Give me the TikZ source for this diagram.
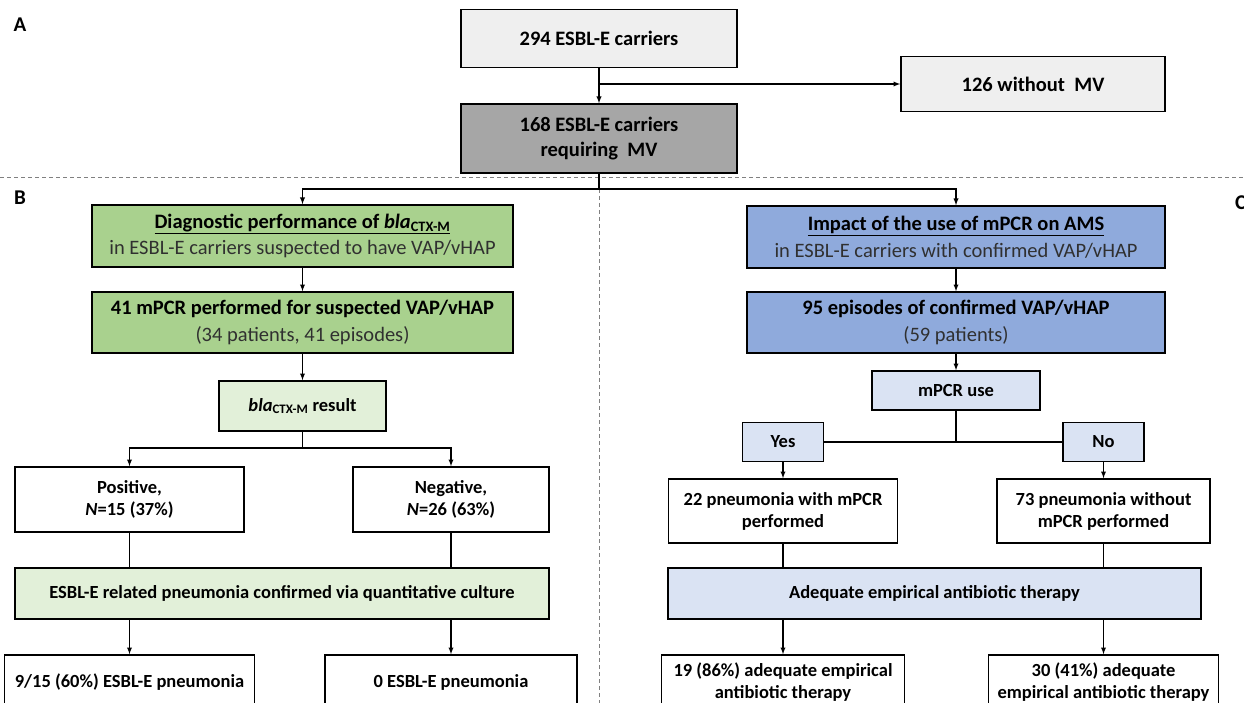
\documentclass[tikz,border=0pt]{standalone}
\usepackage{fontspec}
\setmainfont{Carlito}
\usepackage{tikz}
\definecolor{boxgray}{HTML}{EFEFEF}
\definecolor{boxdark}{HTML}{A6A6A6}
\definecolor{boxgreen}{HTML}{A9D18E}
\definecolor{boxpalegreen}{HTML}{E2F0D9}
\definecolor{boxblue}{HTML}{8FAADC}
\definecolor{boxpaleblue}{HTML}{DAE3F3}
\definecolor{subtext}{HTML}{303030}
\tikzset{arrow/.style={->, >=latex, line width=1.3pt}}
\tikzset{plain-line/.style={line width=1.3pt}}
\tikzset{split-line/.style={draw=gray, line width=1pt, dash pattern=on 4pt off 3pt}}
\tikzset{box/.style={draw, line width=1.6pt, align=center, inner sep=0pt, font=\fontsize{18.5}{22}\selectfont\bfseries}}
\tikzset{big-text/.style={font=\fontsize{20.5}{25}\selectfont\bfseries}}
\tikzset{gray-box/.style={box, big-text, fill=boxgray}}
\tikzset{dark-box/.style={box, big-text, fill=boxdark}}
\tikzset{green-box/.style={box, fill=boxgreen, font=\fontsize{20.5}{26.5}\selectfont\bfseries}}
\tikzset{palegreen-box/.style={box, fill=boxpalegreen}}
\tikzset{blue-box/.style={box, fill=boxblue, font=\fontsize{20.5}{26.5}\selectfont\bfseries}}
\tikzset{paleblue-box/.style={box, fill=boxpaleblue}}
\tikzset{white-box/.style={box, fill=white}}
\tikzset{panel/.style={font=\fontsize{21}{24}\selectfont\bfseries, inner sep=0pt}}
\newcommand{\blaCTX}{\textit{bla}\textsubscript{CTX-M}}
\newcommand{\subline}[1]{{\mdseries\color{subtext}#1}}

\begin{document}
\begin{tikzpicture}[x=1pt, y=-1pt]
      \useasboundingbox (0, 0) rectangle (1244, 703);
      \clip (0, 0) rectangle (1244, 703);

      \node[panel] (labA) at (20, 25) {A};
      \node[panel] (labB) at (20, 198) {B};
      \node[panel, anchor=west] (labC) at (1235, 203) {C};

      \draw[split-line] (0, 178) -- (1244, 178);
      \coordinate (s1) at (599, 189);
      \draw[split-line] (s1) -- (599, 703);

      \node[gray-box, minimum width=276pt, minimum height=58pt] (A1) at (599, 38.5) {294 ESBL-E carriers};
      \node[gray-box, minimum width=264pt, minimum height=55pt] (A2) at (1033, 84) {126 without\ \ MV};
      \node[dark-box, minimum width=276pt, minimum height=69pt] (A3) at (599, 138.5) {168 ESBL-E carriers\\requiring\ \ MV};

      \node[green-box, minimum width=421pt, minimum height=62pt] (B1) at (302.5, 236) {\underline{Diagnostic performance of \blaCTX}\\\subline{in ESBL-E carriers suspected to have VAP/vHAP}};
      \node[green-box, minimum width=421pt, minimum height=61pt] (B2) at (302.5, 322.5) {41 mPCR performed for suspected VAP/vHAP\\\subline{(34 patients, 41 episodes)}};
      \node[palegreen-box, minimum width=167pt, minimum height=50pt] (B3) at (302.5, 406) {\blaCTX{} result};
      \node[white-box, minimum width=229pt, minimum height=65pt] (Bpos) at (129.5, 499.5) {Positive,\\\textit{N}=15 (37\%)};
      \node[white-box, minimum width=196pt, minimum height=65pt] (Bneg) at (451, 499.5) {Negative,\\\textit{N}=26 (63\%)};
      \node[palegreen-box, minimum width=534pt, minimum height=51pt] (Bcult) at (282, 593.5) {ESBL-E related pneumonia confirmed via quantitative culture};
      \node[white-box, minimum width=250pt, minimum height=54pt] (Bres1) at (129.5, 682) {9/15 (60\%) ESBL-E pneumonia};
      \node[white-box, minimum width=252pt, minimum height=54pt] (Bres2) at (451, 682) {0 ESBL-E pneumonia};

      \node[blue-box, minimum width=418pt, minimum height=62pt] (C1) at (956, 237) {\underline{Impact of the use of mPCR on AMS}\\\subline{in ESBL-E carriers with confirmed VAP/vHAP}};
      \node[blue-box, minimum width=418pt, minimum height=61pt] (C2) at (956, 322.5) {95 episodes of confirmed VAP/vHAP\\\subline{(59 patients)}};
      \node[paleblue-box, minimum width=168pt, minimum height=39pt] (C3) at (956, 390.5) {mPCR use};
      \node[paleblue-box, minimum width=81pt, minimum height=39pt] (Cyes) at (783, 442) {Yes};
      \node[paleblue-box, minimum width=81pt, minimum height=39pt] (Cno) at (1103.5, 442) {No};
      \node[white-box, minimum width=229pt, minimum height=64pt] (Cwith) at (783, 511) {22 pneumonia with mPCR\\performed};
      \node[white-box, minimum width=213pt, minimum height=64pt] (Cwithout) at (1103.5, 511) {73 pneumonia without\\mPCR performed};
      \node[paleblue-box, minimum width=533pt, minimum height=51pt] (Cadeq) at (934.5, 593.5) {Adequate empirical antibiotic therapy};
      \node[white-box, minimum width=243pt, minimum height=54pt] (Cres1) at (783, 682) {19 (86\%) adequate empirical\\antibiotic therapy};
      \node[white-box, minimum width=230pt, minimum height=54pt] (Cres2) at (1103.5, 682) {30 (41\%) adequate\\empirical antibiotic therapy};

      \coordinate (s0) at (599, 84);
      \draw[arrow] (A1) -- (A3);
      \draw[arrow] (s0) -- (A2);
      \draw[plain-line] (A3) -- (s1);
      \draw[arrow] (s1) -| (B1);
      \draw[arrow] (s1) -| (C1);

      \draw[arrow] (B1) -- (B2);
      \draw[arrow] (B2) -- (B3);
      \coordinate (s2) at (302.5, 448);
      \draw[plain-line] (B3) -- (s2);
      \draw[arrow] (s2) -| (Bpos);
      \draw[arrow] (s2) -| (Bneg);
      \draw[plain-line] (Bpos) -- (Bpos |- Bcult.north);
      \draw[plain-line] (Bneg) -- (Bneg |- Bcult.north);
      \draw[arrow] (Bpos |- Bcult.south) -- (Bres1);
      \draw[arrow] (Bneg |- Bcult.south) -- (Bres2);

      \draw[arrow] (C1) -- (C2);
      \draw[arrow] (C2) -- (C3);
      \draw[plain-line] (C3) -- (C3 |- Cyes);
      \draw[plain-line] (Cyes) -- (Cno);
      \draw[arrow] (Cyes) -- (Cwith);
      \draw[arrow] (Cno) -- (Cwithout);
      \draw[plain-line] (Cwith) -- (Cwith |- Cadeq.north);
      \draw[plain-line] (Cwithout) -- (Cwithout |- Cadeq.north);
      \draw[arrow] (Cwith |- Cadeq.south) -- (Cres1);
      \draw[arrow] (Cwithout |- Cadeq.south) -- (Cres2);
\end{tikzpicture}
\end{document}
